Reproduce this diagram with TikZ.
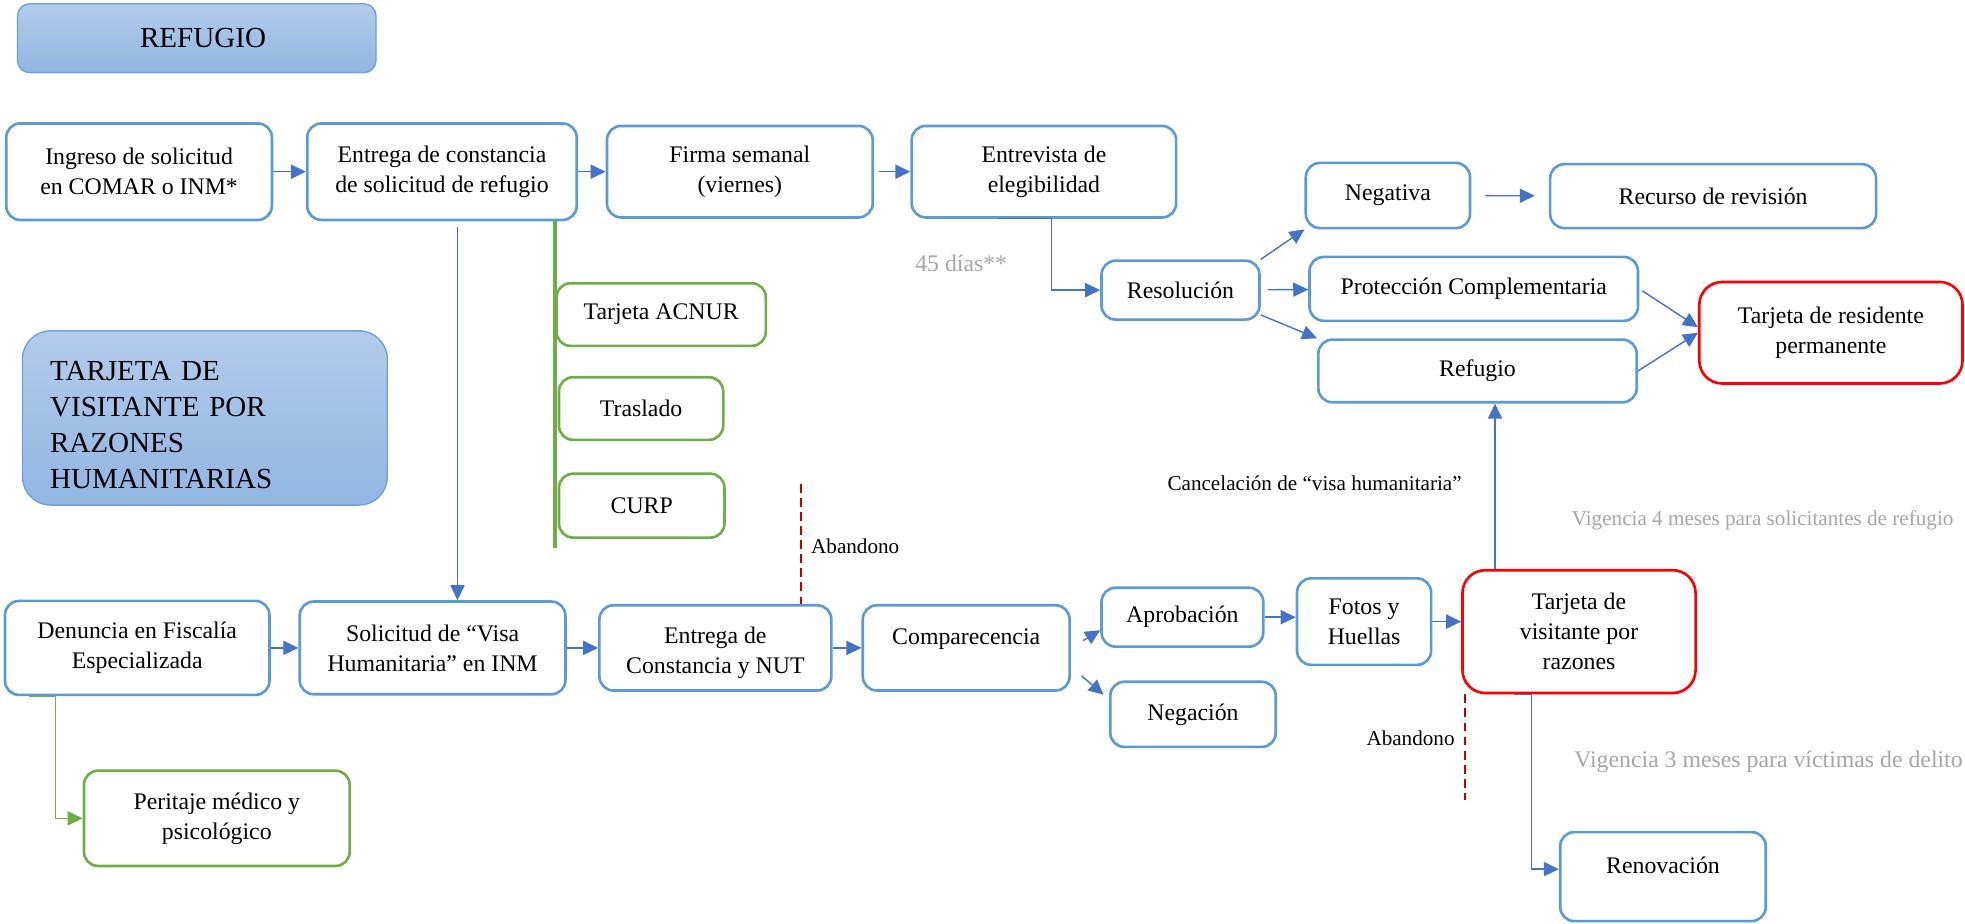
\documentclass[tikz,border=0pt]{standalone}
\usepackage{fontspec}
\setmainfont{Liberation Serif}
\usetikzlibrary{positioning, arrows.meta}
\definecolor{BoxBlue}{HTML}{5B9BD5}
\definecolor{ArrowBlue}{HTML}{4472C4}
\definecolor{BoxGreen}{HTML}{70AD47}
\definecolor{BoxRed}{HTML}{FF0000}
\definecolor{DropRed}{HTML}{C00000}
\definecolor{NoteGray}{HTML}{A6A6A6}
\definecolor{HeadTop}{HTML}{B3CCEB}
\definecolor{HeadBottom}{HTML}{92B5E2}
\definecolor{HeadLine}{HTML}{6FA1DA}
\newcommand{\txtbase}{\fontsize{13.5}{17}\selectfont}
\newcommand{\txtsmall}{\fontsize{12}{15}\selectfont}
\newcommand{\txthead}{\fontsize{16.5}{20.4}\selectfont}

\begin{document}
\begin{tikzpicture}[
        x=0.025cm, y=-0.025cm,
        node distance=0.55cm,
        procbox/.style={rectangle, draw=BoxBlue, fill=white, line width=1.5pt, rounded corners=8pt, align=center, font=\txtbase, inner sep=2pt},
        greenbox/.style={procbox, draw=BoxGreen},
        redbox/.style={procbox, draw=BoxRed, rounded corners=13pt},
        headbox/.style={rectangle, draw=HeadLine, top color=HeadTop, bottom color=HeadBottom, line width=0.8pt, font=\txthead},
        raised/.style={text height=9.5pt, text depth=13.5pt},
        connector/.style={draw=ArrowBlue, line width=0.8pt, -{Triangle[length=8.5pt, width=8pt]}},
        greenconn/.style={connector, draw=BoxGreen},
        greenbar/.style={draw=BoxGreen, line width=2.2pt},
        dropline/.style={draw=DropRed, line width=1.2pt, dash pattern=on 5pt off 3pt},
        note/.style={font=\txtsmall, inner sep=0pt},
        graynote/.style={font=\txtbase, text=NoteGray, inner sep=0pt}
    ]
        \useasboundingbox (0,0) rectangle (1568,737);

        % Headers
        \node (refhead) [headbox, rounded corners=7pt, minimum width=7.15cm, minimum height=1.375cm] at (157,30.5) {\hspace*{0.25cm}REFUGIO};
        \node (tvrhead) [headbox, rounded corners=16pt, minimum width=7.275cm, minimum height=3.475cm, text width=6.175cm, inner xsep=0.55cm, align=left] at (163.5,333.5) {\rule{0pt}{19pt}TARJETA DE\\VISITANTE POR\\RAZONES\\HUMANITARIAS};

        % Nodes - refugio
        \node (ingreso) [procbox, minimum width=5.3cm, minimum height=1.925cm] at (111,137) {Ingreso de solicitud\\en COMAR o INM*};
        \node (entregacons) [procbox, minimum width=5.375cm, minimum height=1.925cm, right=0.65cm of ingreso] {Entrega de constancia\\de solicitud de refugio};
        \node (firma) [procbox, minimum width=5.3cm, minimum height=1.825cm, right=0.55cm of entregacons] {Firma semanal\\(viernes)};
        \node (entrevista) [procbox, minimum width=5.275cm, minimum height=1.825cm, right=0.725cm of firma] {Entrevista de\\elegibilidad};
        \node (resolucion) [procbox, minimum width=3.15cm, minimum height=1.175cm] at (942,231.5) {Resolución};
        \node (negativa) [procbox, minimum width=3.275cm, minimum height=1.3cm] at (1107.5,156) {Negativa};
        \node (recurso) [procbox, minimum width=6.5cm, minimum height=1.275cm] at (1367,156.5) {Recurso de revisión};
        \node (proteccion) [procbox, minimum width=6.55cm, minimum height=1.275cm] at (1176,230.5) {Protección Complementaria};
        \node (refugio) [procbox, minimum width=6.35cm, minimum height=1.25cm] at (1179,296) {Refugio};
        \node (residente) [redbox, minimum width=5.25cm, minimum height=2.025cm] at (1461,265.5) {Tarjeta de residente\\permanente};

        \coordinate (greenend) at (443,437);
        \node (acnur) [greenbox, anchor=west, minimum width=4.175cm, minimum height=1.25cm] at (443,251) {Tarjeta ACNUR};
        \node (traslado) [greenbox, anchor=west, minimum width=3.275cm, minimum height=1.25cm] at (445,326) {Traslado};
        \node (curp) [greenbox, anchor=west, minimum width=3.3cm, minimum height=1.275cm] at (445,403.5) {CURP};

        % Nodes - visa humanitaria
        \node (denuncia) [procbox, minimum width=5.275cm, minimum height=1.875cm] at (109.5,517) {Denuncia en Fiscalía\\Especializada};
        \node (solicitud) [procbox, minimum width=5.3cm, minimum height=1.85cm, right=0.55cm of denuncia] {Solicitud de “Visa\\Humanitaria” en INM};
        \node (entreganut) [procbox, minimum width=4.625cm, minimum height=1.7cm, right=0.625cm of solicitud] {\rule{0pt}{15pt}Entrega de\\Constancia y NUT};
        \node (comparecencia) [procbox, raised, minimum width=4.125cm, minimum height=1.7cm, right=0.575cm of entreganut] {Comparecencia};
        \node (aprobacion) [procbox, minimum width=3.225cm, minimum height=1.175cm] at (943.5,492.5) {Aprobación};
        \node (negacion) [procbox, minimum width=3.3cm, minimum height=1.3cm] at (952,570) {Negación};
        \node (fotos) [procbox, minimum width=2.675cm, minimum height=1.725cm] at (1088.5,496) {Fotos y\\Huellas};
        \node (visitante) [redbox, minimum width=4.65cm, minimum height=2.45cm] at (1260,504) {Tarjeta de\\visitante por\\razones};
        \node (renovacion) [procbox, raised, minimum width=4.1cm, minimum height=1.775cm] at (1327,699.5) {Renovación};
        \node (peritaje) [greenbox, minimum width=5.3cm, minimum height=1.9cm] at (173,653) {Peritaje médico y\\psicológico};

        % Connectors
        \draw [connector] (ingreso) -- (entregacons);
        \draw [connector] (entregacons) -- (firma);
        \draw [connector, shorten <=3pt] (firma) -- (entrevista);
        \draw [connector] ([xshift=-0.9cm]entrevista.south) -- ++(1.05cm,0) |- (resolucion);
        \draw [connector] (resolucion.north east) -- (negativa.south west);
        \draw [connector, shorten <=4pt] (resolucion) -- (proteccion);
        \draw [connector] ([yshift=0.12cm]resolucion.south east) -- (refugio.north west);
        \draw [connector, shorten <=8pt, shorten >=8pt] (negativa) -- (recurso);
        \draw [connector, shorten <=2pt] (proteccion.east) -- ([yshift=0.11cm]residente.west);
        \draw [connector] (refugio.east) -- (residente.west);
        \draw [greenbar] (entregacons.south -| greenend) -- (greenend);
        \draw [connector, shorten <=3pt] ([xshift=0.31cm]entregacons.south) -- ([xshift=0.31cm]entregacons.south |- solicitud.north);

        \draw [connector] (denuncia) -- (solicitud);
        \draw [connector] (solicitud) -- (entreganut);
        \draw [connector] (entreganut) -- (comparecencia);
        \draw [connector, shorten <=8pt] (comparecencia.east) -- ([yshift=-0.26cm]aprobacion.west);
        \draw [connector, shorten <=8pt, shorten >=4pt] ([yshift=-0.375cm]comparecencia.east) -- ([yshift=0.3cm]negacion.west);
        \draw [connector] (aprobacion.east) -- (aprobacion.east -| fotos.west);
        \draw [connector] (fotos.east) -- (fotos.east -| visitante.west);
        \draw [connector] ([xshift=-1.3cm]visitante.south) -- ++(0.35cm,0) |- ([yshift=0.15cm]renovacion.west);
        \draw [connector] ([xshift=-1.675cm]visitante.north) -- ([xshift=-1.675cm]visitante.north |- refugio.south);
        \draw [greenconn] ([xshift=-2.16cm]denuncia.south) -- ++(0.525cm,0) |- (peritaje);

        % Abandono
        \coordinate (abandonoA) at (639,386);
        \draw [dropline] (abandonoA) -- (abandonoA |- entreganut.north);
        \node (abandonoAtxt) [note, anchor=west] at (647,436) {Abandono};
        \coordinate (abandonoB) at (1169,638);
        \draw [dropline] (abandonoB |- visitante.south) -- (abandonoB);
        \node (abandonoBtxt) [note, anchor=east] at (1161,589) {Abandono};

        % Labels
        \node (cancelacion) [note] at (1049,386) {Cancelación de “visa humanitaria”};
        \node (plazo) [graynote] at (767,210) {45 días**};
        \node (vigencia4) [graynote, font=\txtsmall, anchor=west] at (1254,415) {Vigencia 4 meses para solicitantes de refugio};
        \node (vigencia3) [graynote, anchor=west] at (1256,608) {Vigencia 3 meses para víctimas de delito};
    \end{tikzpicture}
\end{document}
